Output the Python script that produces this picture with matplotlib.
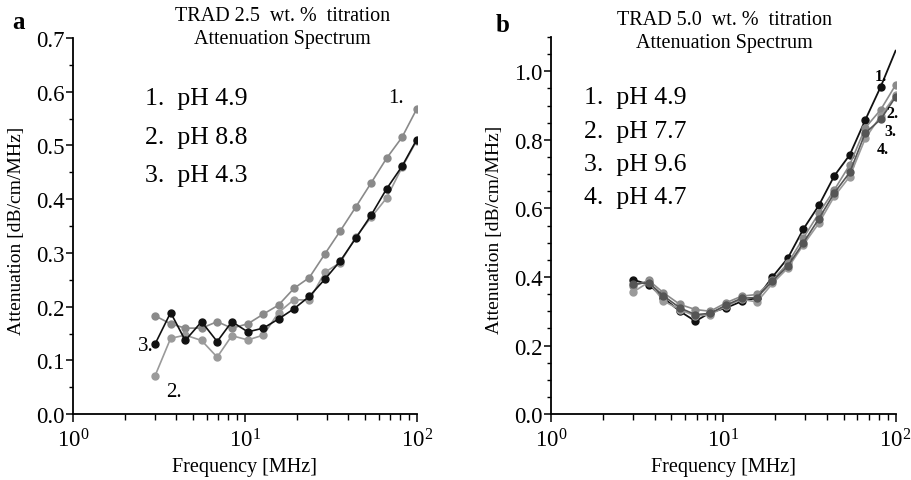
import numpy as np
import matplotlib
matplotlib.use('Agg')
import matplotlib.pyplot as plt
from matplotlib.ticker import MultipleLocator, LogLocator, NullFormatter, FormatStrFormatter

plt.rcParams['font.family'] = ['Liberation Serif', 'DejaVu Serif']
plt.rcParams['mathtext.fontset'] = 'custom'
plt.rcParams['mathtext.rm'] = 'Liberation Serif'

# frequências comuns aos dois ensaios (MHz)
freq = [3.0, 3.7, 4.5, 5.6, 6.9, 8.4, 10.4, 12.8, 15.7, 19.3,
        23.7, 29.2, 35.9, 44.1, 54.2, 66.7, 82.0, 100.0]

# painel a - TRAD 2.5 wt. %
a_ph49 = [0.183, 0.168, 0.160, 0.160, 0.172, 0.160, 0.168, 0.186, 0.203, 0.234,
          0.254, 0.298, 0.341, 0.385, 0.430, 0.476, 0.515, 0.568]
a_ph88 = [0.071, 0.141, 0.147, 0.137, 0.106, 0.146, 0.138, 0.147, 0.189, 0.213,
          0.212, 0.264, 0.282, 0.329, 0.366, 0.402, 0.459, 0.509]
a_ph43 = [0.130, 0.189, 0.137, 0.172, 0.135, 0.172, 0.153, 0.160, 0.177, 0.196,
          0.219, 0.251, 0.285, 0.327, 0.370, 0.419, 0.461, 0.511]

# painel b - TRAD 5.0 wt. %
b_ph49 = [0.392, 0.378, 0.339, 0.300, 0.271, 0.296, 0.310, 0.329, 0.339, 0.400,
          0.455, 0.540, 0.609, 0.695, 0.756, 0.858, 0.955, 1.060]
b_ph77 = [0.373, 0.390, 0.354, 0.320, 0.305, 0.300, 0.325, 0.344, 0.349, 0.390,
          0.440, 0.514, 0.586, 0.654, 0.727, 0.835, 0.888, 0.960]
b_ph96 = [0.356, 0.385, 0.330, 0.305, 0.286, 0.290, 0.315, 0.335, 0.327, 0.381,
          0.426, 0.494, 0.557, 0.635, 0.693, 0.804, 0.870, 0.930]
b_ph47 = [0.380, 0.383, 0.345, 0.310, 0.290, 0.294, 0.318, 0.338, 0.340, 0.388,
          0.432, 0.500, 0.570, 0.645, 0.705, 0.820, 0.860, 0.925]

legend_a = ['1.  pH 4.9', '2.  pH 8.8', '3.  pH 4.3']
legend_b = ['1.  pH 4.9', '2.  pH 7.7', '3.  pH 9.6', '4.  pH 4.7']


def style_axes(ax, ymax, ymajor):
    ax.set_xscale('log')
    ax.set_xlim(1, 100)
    ax.set_ylim(0, ymax)
    ax.spines['top'].set_visible(False)
    ax.spines['right'].set_visible(False)
    ax.spines['left'].set_bounds(0, ymax)
    for s in ('left', 'bottom'):
        ax.spines[s].set_linewidth(1.3)
    ax.yaxis.set_major_locator(MultipleLocator(ymajor))
    ax.yaxis.set_minor_locator(MultipleLocator(0.05))
    ax.yaxis.set_major_formatter(FormatStrFormatter('%.1f'))
    ax.xaxis.set_major_locator(LogLocator(base=10))
    ax.xaxis.set_minor_locator(LogLocator(base=10, subs=np.arange(2, 10)))
    ax.xaxis.set_minor_formatter(NullFormatter())
    ax.tick_params(axis='y', which='major', direction='out', length=5, width=1.1,
                   labelsize=16.5, pad=1)
    ax.tick_params(axis='y', which='minor', direction='out', length=3, width=1.0)
    ax.tick_params(axis='x', which='major', direction='out', length=6, width=1.1,
                   labelsize=16.5, pad=4)
    ax.tick_params(axis='x', which='minor', direction='out', length=4, width=1.0)
    ax.set_xlabel('Frequency [MHz]', fontsize=14.5)
    ax.set_ylabel('Attenuation [dB/cm/MHz]', fontsize=14)
    ax.xaxis.set_label_coords(0.5, -0.115)


fig = plt.figure(figsize=(9.12, 4.81), dpi=100)
ax1 = fig.add_axes([0.080, 0.137, 0.377, 0.782])
ax2 = fig.add_axes([0.604, 0.137, 0.378, 0.784])

# --- painel a ---
mk = dict(marker='o', markersize=5, linewidth=1.2)
ax1.plot(freq, a_ph49, color='#8a8a8a', **mk)
ax1.plot(freq, a_ph88, color='#9a9a9a', **mk)
ax1.plot(freq, a_ph43, color='#111111', **mk)
style_axes(ax1, 0.7, 0.1)
ax1.yaxis.set_label_coords(-0.14, 0.49)

for i, txt in enumerate(legend_a):
    ax1.text(0.21, 0.84 - i * 0.102, txt, transform=ax1.transAxes,
             fontsize=18.5, va='center', ha='left')
ax1.text(84, 0.59, '1.', fontsize=15, ha='right', va='center')
ax1.text(2.95, 0.128, '3.', fontsize=15, ha='right', va='center')
ax1.text(3.5, 0.042, '2.', fontsize=15, ha='left', va='center')

fig.text(0.31, 0.965, 'TRAD 2.5  wt. %  titration', fontsize=14.5, ha='center', va='center')
fig.text(0.31, 0.917, 'Attenuation Spectrum', fontsize=14.5, ha='center', va='center')
fig.text(0.013, 0.953, 'a', fontsize=18, fontweight='bold', ha='left', va='center')

# --- painel b ---
ax2.plot(freq, b_ph49, color='#111111', linewidth=1.3)
ax2.plot(freq[:-1], b_ph49[:-1], color='#111111', marker='o', markersize=5, linestyle='none')
ax2.plot(freq, b_ph77, color='#8a8a8a', **mk)
ax2.plot(freq, b_ph96, color='#9a9a9a', **mk)
ax2.plot(freq, b_ph47, color='#555555', **mk)
style_axes(ax2, 1.1, 0.2)
ax2.yaxis.set_label_coords(-0.14, 0.49)

for i, txt in enumerate(legend_b):
    ax2.text(0.095, 0.84 - i * 0.088, txt, transform=ax2.transAxes,
             fontsize=18.5, va='center', ha='left')
ax2.text(76, 0.985, '1.', fontsize=11.5, fontweight='bold', ha='left', va='center')
ax2.text(88, 0.878, '2.', fontsize=11.5, fontweight='bold', ha='left', va='center')
ax2.text(86, 0.827, '3.', fontsize=11.5, fontweight='bold', ha='left', va='center')
ax2.text(78, 0.772, '4.', fontsize=11.5, fontweight='bold', ha='left', va='center')

fig.text(0.794, 0.957, 'TRAD 5.0  wt. %  titration', fontsize=14.5, ha='center', va='center')
fig.text(0.794, 0.909, 'Attenuation Spectrum', fontsize=14.5, ha='center', va='center')
fig.text(0.543, 0.947, 'b', fontsize=18, fontweight='bold', ha='left', va='center')

fig.savefig('out.png', dpi=100)
